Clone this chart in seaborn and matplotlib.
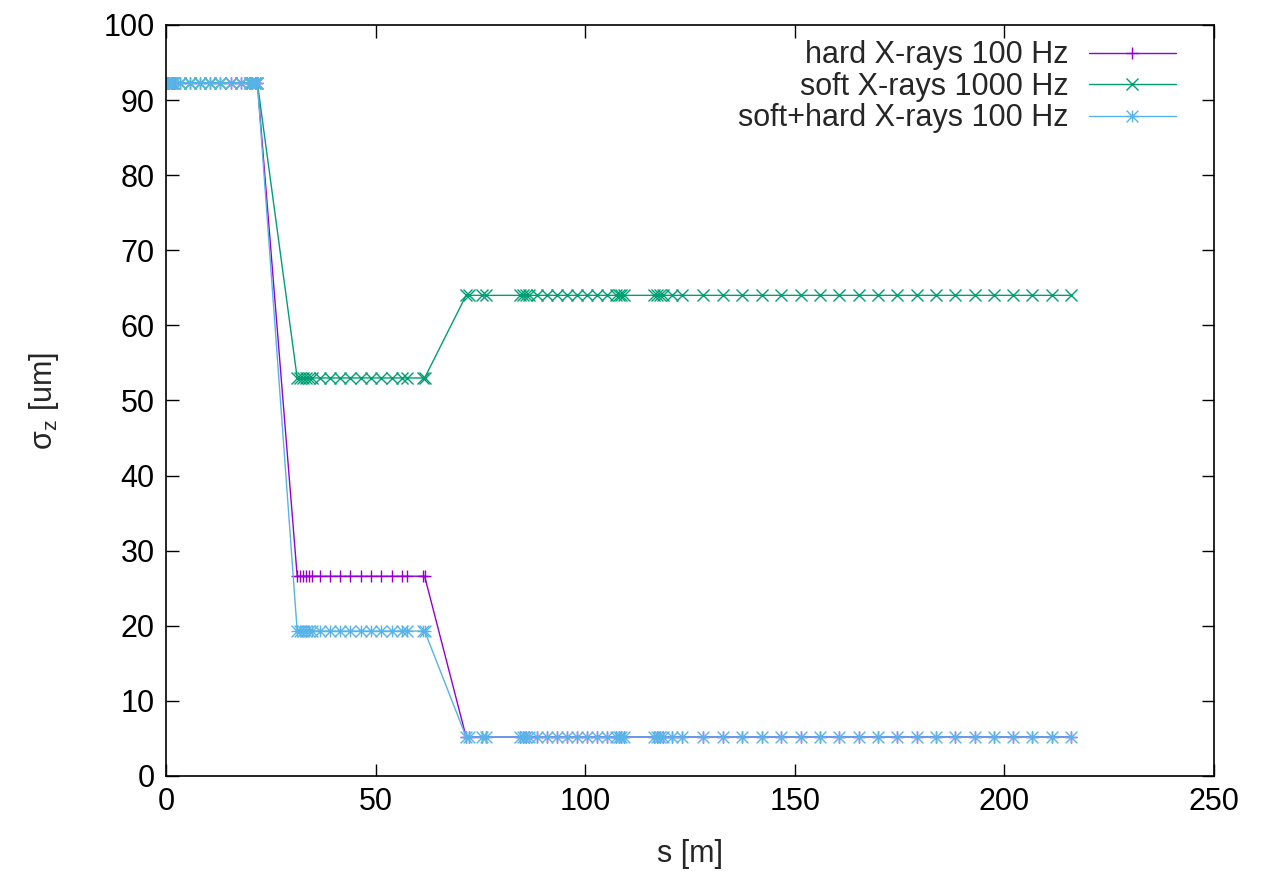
import numpy as np
import pandas as pd
import matplotlib
matplotlib.use("Agg")
import matplotlib.pyplot as plt
from matplotlib.path import Path
import seaborn as sns

# positions along the beamline [m]
s_seg1 = [0.0, 0.4, 0.8, 1.2, 1.6, 3.4, 5.8, 8.2, 10.6, 13.0, 15.4, 17.8,
          20.0, 20.6, 21.2, 21.8]
s_seg2 = [31.3, 31.9, 32.8, 33.4, 34.1, 34.8, 36.7, 39.1, 41.6, 44.0, 46.5,
          48.9, 51.3, 53.8, 56.2, 57.4, 61.2, 61.7]
s_seg3 = [71.6, 72.3, 75.5, 76.4, 84.5, 85.2, 85.9, 86.6, 88.4, 90.8, 93.2,
          95.6, 98.0, 100.4, 102.7, 105.1, 107.3, 108.0, 108.6, 109.3, 116.5,
          117.2, 117.9, 118.6, 120.8, 123.2, 128.2, 132.9, 137.5, 142.1, 146.8,
          151.4, 156.0, 160.6, 165.3, 169.9, 174.5, 179.1, 183.7, 188.3, 192.9,
          197.5, 202.1, 206.7, 211.3, 216.0]

# sigma_z level [um] in each section for each mode
series_names = ["hard X-rays 100 Hz", "soft X-rays 1000 Hz", "soft+hard X-rays 100 Hz"]
hard_levels = [92.3, 26.6, 5.2]
soft_levels = [92.3, 53.0, 64.0]
both_levels = [92.3, 19.3, 5.2]
colors = ["#9400d3", "#009e73", "#56b4e9"]

rows = []
for name, levels in zip(series_names, [hard_levels, soft_levels, both_levels]):
    for seg, lev in zip([s_seg1, s_seg2, s_seg3], levels):
        for s in seg:
            rows.append({"s": s, "sigma": lev, "series": name})
df = pd.DataFrame(rows)

sns.set_style("ticks")
plt.rcParams["font.family"] = ["Liberation Sans", "DejaVu Sans"]
plt.rcParams["mathtext.fontset"] = "custom"
plt.rcParams["mathtext.rm"] = "Liberation Sans"
plt.rcParams["mathtext.it"] = "Liberation Sans"
plt.rcParams["mathtext.default"] = "regular"

FS = 22
MS = 8.5

# gnuplot-like asterisk: plus and cross combined
star_path = Path([(-1, 0), (1, 0), (0, -1), (0, 1), (-1, -1), (1, 1), (-1, 1), (1, -1)],
                 [Path.MOVETO, Path.LINETO] * 4)

fig = plt.figure(figsize=(12.68, 8.8), dpi=100)
ax = fig.add_axes([0.1309, 0.1182, 0.8265, 0.8534])

markers = {series_names[0]: "+", series_names[1]: "x", series_names[2]: (8, 2, 0)}
sns.lineplot(data=df, x="s", y="sigma", hue="series", style="series",
             hue_order=series_names, style_order=series_names,
             palette=colors, markers=markers, dashes=False,
             estimator=None, sort=True, lw=1.0, markersize=MS,
             markeredgewidth=1.0, markeredgecolor=None, ax=ax)


def fix(ln):
    ln.set_markeredgecolor(ln.get_color())
    ln.set_linestyle("-")
    ln.set_markersize(MS)
    if ln.get_color() == colors[2] or matplotlib.colors.to_hex(ln.get_color()) == colors[2]:
        ln.set_marker(star_path)
        ln.set_markerfacecolor("none")


for ln in ax.get_lines():
    fix(ln)

ax.set_xlim(0, 250)
ax.set_ylim(0, 100)
ax.set_xticks(np.arange(0, 251, 50))
ax.set_yticks(np.arange(0, 101, 10))
ax.tick_params(direction="in", length=9, width=1, top=True, right=True,
               labelsize=FS, colors="black", pad=8)
for sp in ax.spines.values():
    sp.set_visible(True)
    sp.set_linewidth(1.2)
    sp.set_color("black")

ax.set_xlabel("s [m]", fontsize=FS, labelpad=16)
ax.set_ylabel(r"σ$_z$ [um]", fontsize=FS, labelpad=31)

leg = ax.legend(loc="upper right", bbox_to_anchor=(0.984, 1.008), frameon=False,
                markerfirst=False, fontsize=FS, handlelength=2.85,
                labelspacing=0.05, handletextpad=0.65, borderaxespad=0.3)
for h in leg.legend_handles:
    fix(h)

fig.savefig("out.png", dpi=100)
